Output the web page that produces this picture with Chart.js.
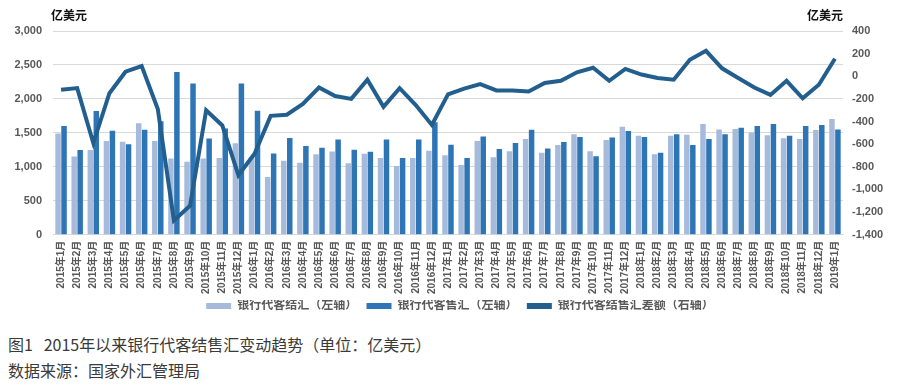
<!DOCTYPE html>
<html>
<head>
<meta charset="utf-8">
<script src="https://cdn.jsdelivr.net/npm/chart.js@4/dist/chart.umd.min.js"></script>
<style>
  body { margin: 0; background: #fff; width: 920px; height: 387px; position: relative; overflow: hidden; }
  #wrap { position: absolute; left: 0; top: 0; width: 920px; height: 322px; }
  .cap { position: absolute; left: 8px; font-family: 'Noto Sans CJK SC', sans-serif; font-size: 16px; color: #3a3a3a; white-space: nowrap; }
</style>
</head>
<body>
<div id="wrap"><canvas id="myChart"></canvas></div>
<div class="cap" style="top:332px">图1&nbsp;&nbsp;&nbsp;2015年以来银行代客结售汇变动趋势（单位：亿美元）</div>
<div class="cap" style="top:358px">数据来源：国家外汇管理局</div>
<script>
  // months 2015-1 .. 2019-1
  var months = [];
  [2015, 2016, 2017, 2018].forEach(function(y){
    for (var m = 1; m <= 12; m++) months.push(y + "年" + m + "月");
  });
  months.push("2019年1月");

  // 银行代客结汇 (left axis)
  var jiehui = [
    1490, 1150, 1245, 1380, 1370, 1640, 1380, 1120, 1075, 1120, 1130, 1345,
    1140, 850, 1090, 1060, 1185, 1225, 1050, 1190, 1130, 1010, 1130, 1235,
    1170, 1025, 1380, 1140, 1230, 1410, 1205, 1320, 1480, 1230, 1395, 1590,
    1455, 1185, 1455, 1470, 1630, 1550, 1555, 1505, 1465, 1420, 1410, 1540,
    1705
  ];
  // 银行代客售汇 (left axis)
  var shouhui = [
    1600, 1245, 1820, 1530, 1330, 1545, 1670, 2395, 2225, 1415, 1565, 2225,
    1825, 1195, 1425, 1305, 1280, 1400, 1250, 1220, 1400, 1130, 1400, 1655,
    1325, 1130, 1445, 1260, 1350, 1545, 1270, 1365, 1440, 1155, 1430, 1525,
    1440, 1205, 1480, 1320, 1410, 1480, 1575, 1600, 1630, 1455, 1600, 1615,
    1550
  ];
  // 结售汇差额 (right axis)
  var chae = [
    -120, -105, -590, -150, 40, 90, -290, -1275, -1145, -300, -435, -875,
    -685, -350, -340, -245, -100, -175, -200, -30, -270, -105, -255, -430,
    -160, -110, -70, -125, -125, -135, -60, -40, 35, 75, -40, 65,
    15, -15, -30, 145, 225, 70, -15, -100, -165, -40, -195, -75,
    155
  ];

  var fontFam = "'Liberation Sans', 'Noto Sans CJK SC', sans-serif";
  var grey = "#595959";

  function fmt(v){
    return v.toLocaleString("en-US");
  }

  // unit labels above both axes
  var unitPlugin = {
    id: "units",
    afterDraw: function(chart){
      var c = chart.ctx, a = chart.chartArea;
      c.save();
      c.fillStyle = "#111";
      c.font = "bold 12px 'Noto Sans CJK SC', sans-serif";
      c.textBaseline = "middle";
      c.textAlign = "left";
      c.fillText("亿美元", a.left - 2, 15);
      c.textAlign = "right";
      c.fillText("亿美元", a.right, 15);
      c.restore();
    }
  };

  var ctx = document.getElementById("myChart").getContext("2d");
  var myChart = new Chart(ctx, {
    data: {
      labels: months,
      datasets: [
        {
          type: "bar",
          label: "银行代客结汇（左轴）",
          data: jiehui,
          backgroundColor: "#a6bbdb",
          yAxisID: "y",
          order: 2,
          categoryPercentage: 0.74,
          barPercentage: 0.92
        },
        {
          type: "bar",
          label: "银行代客售汇（左轴）",
          data: shouhui,
          backgroundColor: "#2e75b6",
          yAxisID: "y",
          order: 2,
          categoryPercentage: 0.74,
          barPercentage: 0.92
        },
        {
          type: "line",
          label: "银行代客结售汇差额（右轴）",
          data: chae,
          borderColor: "#235f8e",
          backgroundColor: "#235f8e",
          borderWidth: 4,
          pointRadius: 0,
          tension: 0,
          yAxisID: "y1",
          order: 0
        }
      ]
    },
    options: {
      responsive: true,
      maintainAspectRatio: false,
      animation: false,
      layout: { padding: { top: 31, left: 0, right: 0, bottom: 0 } },
      plugins: {
        tooltip: { enabled: false },
        legend: {
          position: "bottom",
          labels: {
            boxWidth: 25,
            boxHeight: 6,
            padding: 0,
            color: grey,
            font: { family: fontFam, size: 12, weight: "bold" },
            sort: function(a, b){ return a.datasetIndex - b.datasetIndex; },
            generateLabels: function(chart){
              var items = Chart.defaults.plugins.legend.labels.generateLabels(chart);
              items.forEach(function(it){
                it.lineWidth = 0;
                if (it.datasetIndex < 2) it.text = it.text + "\u3000 ";
              });
              return items;
            }
          }
        }
      },
      scales: {
        x: {
          grid: { display: false, drawTicks: false },
          border: { color: "#d9d9d9" },
          ticks: {
            autoSkip: false,
            minRotation: 90,
            maxRotation: 90,
            padding: 6,
            color: grey,
            font: { family: fontFam, size: 10, weight: "bold" }
          }
        },
        y: {
          position: "left",
          min: 0,
          max: 3000,
          afterFit: function(s){ s.width = 53; },
          grid: { color: "#d9d9d9", drawTicks: false },
          border: { display: false },
          ticks: {
            stepSize: 500,
            padding: 11,
            color: grey,
            font: { family: fontFam, size: 11, weight: "bold" },
            callback: function(v){ return fmt(v); }
          }
        },
        y1: {
          position: "right",
          min: -1400,
          max: 400,
          afterFit: function(s){ s.width = 77; },
          grid: { display: false, drawTicks: false },
          border: { display: false },
          ticks: {
            stepSize: 200,
            padding: 9,
            color: grey,
            font: { family: fontFam, size: 11, weight: "bold" },
            callback: function(v){ return fmt(v); }
          }
        }
      }
    },
    plugins: [unitPlugin]
  });
</script>
</body>
</html>
